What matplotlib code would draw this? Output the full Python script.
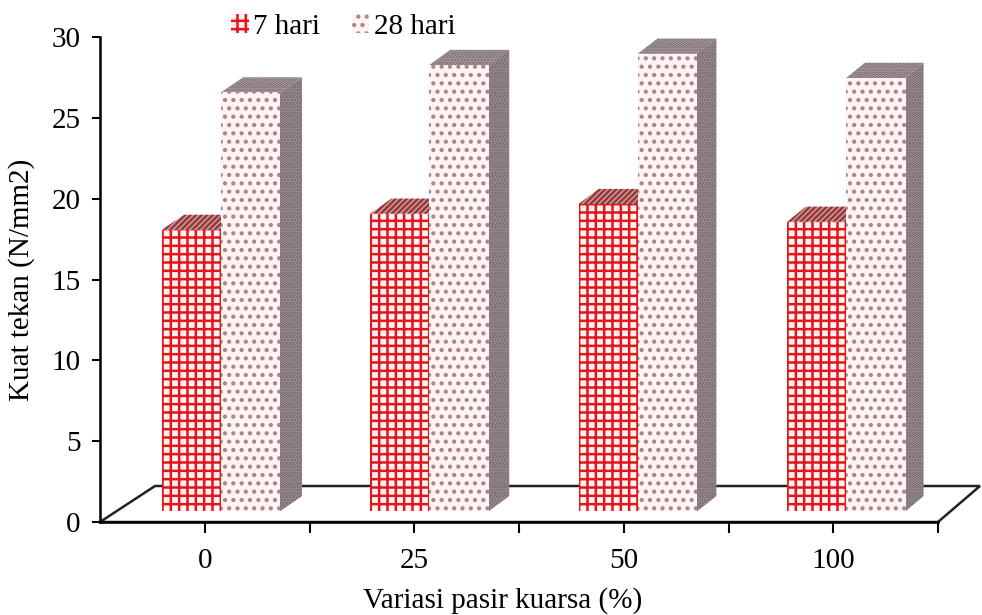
import matplotlib
matplotlib.use('Agg')
import matplotlib.pyplot as plt
from matplotlib.patches import Polygon, Patch

plt.rcParams['font.family'] = ['Liberation Serif', 'DejaVu Serif']
plt.rcParams['hatch.linewidth'] = 1.8

# Compressive strength per sand variation
categories = ['0', '25', '50', '100']
hari_7 = [17.4, 18.4, 19.0, 17.9]
hari_28 = [25.9, 27.6, 28.3, 26.8]
series_names = ['7 hari', '28 hari']

fig = plt.figure(figsize=(9.82, 6.15), dpi=100)
ax = fig.add_axes([100 / 982, 93 / 615, 838 / 982, 485 / 615])
ax.set_xlim(-0.5, len(categories) - 0.5)
ax.set_ylim(0, 30)

# pixel scale of the axes, used for the fake 3D depth offset
px_x = 838 / len(categories)
px_y = 485 / 30


def proj(x, y, d):
    # oblique projection with a bit of perspective: depth shifts right and up
    dx_px = 55 - 13 * (x + 0.5) / len(categories)
    return (x + d * dx_px / px_x, y + d * 36 / px_y)


def face(pts, fc, hatch, hc, z):
    poly = Polygon([proj(*p) for p in pts], closed=True, facecolor=fc,
                   edgecolor=hc, hatch=hatch, linewidth=0, zorder=z, clip_on=False)
    ax.add_patch(poly)


# floor
x_lo, x_hi = -0.5, len(categories) - 0.5
floor = [proj(x_lo, 0, 0), proj(x_lo, 0, 1), proj(x_hi, 0, 1), proj(x_hi, 0, 0)]
ax.add_patch(Polygon(floor, closed=True, facecolor='white', edgecolor='#222222',
                     linewidth=1.8, zorder=1, clip_on=False))

w = 59.5 / px_x
d0, d1 = 0.3, 0.72
styles = [
    # front, top, side: (facecolor, hatch, hatch colour)
    [('#fff2f2', '++', '#e3161c'), ('#e49a9a', '//////', '#8a3c3c'), ('#e8a0a0', '++', '#c02020')],
    [('#fff3f4', '..', '#a9848b'), ('#bfb1b3', '.....', '#6d6064'), ('#b2a4a7', '.....', '#675a5e')],
]

z = 2
for i in range(len(categories)):
    for s, vals in enumerate([hari_7, hari_28]):
        v = vals[i]
        x0 = i + (s - 1) * w
        x1 = x0 + w
        fr, tp, sd = styles[s]
        face([(x1, 0, d0), (x1, 0, d1), (x1, v, d1), (x1, v, d0)], sd[0], sd[1], sd[2], z)
        face([(x0, v, d0), (x1, v, d0), (x1, v, d1), (x0, v, d1)], tp[0], tp[1], tp[2], z)
        face([(x0, 0, d0), (x1, 0, d0), (x1, v, d0), (x0, v, d0)], fr[0], fr[1], fr[2], z)
        z += 1

ax.spines['top'].set_visible(False)
ax.spines['right'].set_visible(False)
ax.spines['left'].set_linewidth(1.8)
ax.spines['bottom'].set_linewidth(1.8)
ax.spines['left'].set_zorder(50)
ax.spines['bottom'].set_zorder(50)

ax.set_yticks(range(0, 31, 5))
ax.set_xticks(range(len(categories)))
ax.set_xticklabels(categories)
ax.set_xticks([i - 0.5 for i in range(1, len(categories) + 1)], minor=True)
ax.tick_params(axis='y', direction='out', length=6, width=1.5, labelsize=21, pad=8)
ax.tick_params(axis='x', which='both', direction='out', length=8, width=1.5, labelsize=21, pad=11)

ax.set_xlabel('Variasi pasir kuarsa (%)', fontsize=21)
ax.xaxis.set_label_coords(0.48, -0.135)
ax.set_ylabel('Kuat tekan (N/mm2)', fontsize=21, labelpad=12)

handles = [
    Patch(facecolor='#fff0f0', edgecolor='#e3161c', hatch='++', linewidth=0),
    Patch(facecolor='#fff4f4', edgecolor='#a9848b', hatch='..', linewidth=0),
]
ax.legend(handles, series_names, loc='upper left', bbox_to_anchor=(0.132, 1.09),
          ncol=2, frameon=False, fontsize=21, handlelength=0.6, handleheight=0.6,
          handletextpad=0.15, columnspacing=1.1, borderpad=0.2)

fig.savefig('out.png', dpi=100)
